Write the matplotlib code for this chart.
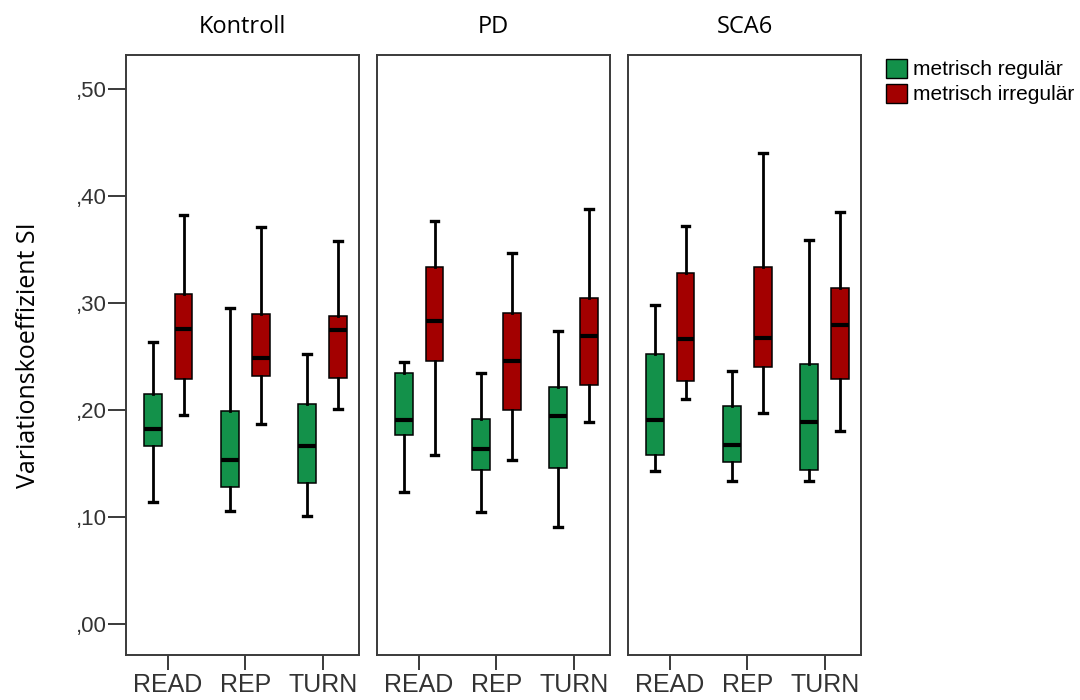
import matplotlib
matplotlib.use("Agg")
import matplotlib.pyplot as plt
from matplotlib.patches import Patch

groups = ["Kontroll", "PD", "SCA6"]
tasks = ["READ", "REP", "TURN"]
series = ["metrisch regulär", "metrisch irregulär"]
colors = ["#13914A", "#A30000"]

# five-number summaries per group, task order READ, REP, TURN
# (lower whisker, Q1, median, Q3, upper whisker)
kontroll_regular = [(0.114, 0.166, 0.182, 0.215, 0.264),
                    (0.106, 0.128, 0.153, 0.199, 0.295),
                    (0.101, 0.132, 0.166, 0.206, 0.252)]
kontroll_irregular = [(0.195, 0.229, 0.276, 0.309, 0.382),
                      (0.187, 0.232, 0.249, 0.290, 0.371),
                      (0.201, 0.230, 0.275, 0.288, 0.358)]
pd_regular = [(0.123, 0.177, 0.191, 0.235, 0.245),
              (0.105, 0.144, 0.164, 0.192, 0.235),
              (0.091, 0.146, 0.194, 0.222, 0.274)]
pd_irregular = [(0.158, 0.246, 0.283, 0.334, 0.377),
                (0.153, 0.200, 0.246, 0.291, 0.347),
                (0.189, 0.223, 0.269, 0.305, 0.388)]
sca6_regular = [(0.143, 0.158, 0.191, 0.252, 0.298),
                (0.134, 0.151, 0.167, 0.204, 0.237),
                (0.134, 0.144, 0.189, 0.243, 0.359)]
sca6_irregular = [(0.210, 0.227, 0.266, 0.328, 0.372),
                  (0.197, 0.240, 0.267, 0.334, 0.440),
                  (0.180, 0.229, 0.280, 0.314, 0.385)]

data = {
    "Kontroll": (kontroll_regular, kontroll_irregular),
    "PD": (pd_regular, pd_irregular),
    "SCA6": (sca6_regular, sca6_irregular),
}

yticks = [0.0, 0.1, 0.2, 0.3, 0.4, 0.5]
ytick_labels = [",00", ",10", ",20", ",30", ",40", ",50"]

fig = plt.figure(figsize=(10.8, 7.0), dpi=100)
lefts = [126 / 1080, 377 / 1080, 628 / 1080]
width = 233 / 1080
bottom = 1 - 655 / 700
height = 600 / 700

offsets = [-0.2, 0.2]
axes = []
for gi, g in enumerate(groups):
    ax = fig.add_axes([lefts[gi], bottom, width, height])
    axes.append(ax)
    for si, summ in enumerate(data[g]):
        stats = []
        for lo, q1, med, q3, hi in summ:
            stats.append(dict(whislo=lo, q1=q1, med=med, q3=q3, whishi=hi, fliers=[]))
        pos = [i + offsets[si] for i in range(len(tasks))]
        ax.bxp(stats, positions=pos, widths=0.23, patch_artist=True, showfliers=False,
               boxprops=dict(facecolor=colors[si], edgecolor="black", linewidth=1.1),
               medianprops=dict(color="black", linewidth=3.0, solid_capstyle="butt"),
               whiskerprops=dict(color="black", linewidth=2.0),
               capprops=dict(color="black", linewidth=2.4),
               capwidths=0.1, manage_ticks=False)
    ax.set_xlim(-0.545, 2.47)
    ax.set_ylim(-0.029, 0.532)
    ax.set_xticks(range(len(tasks)))
    ax.set_xticklabels(tasks, fontsize=18, family="Liberation Sans", color="#333333")
    ax.tick_params(axis="x", length=11, width=1.4, color="#3a3a3a", pad=2)
    for sp in ax.spines.values():
        sp.set_color("#3a3a3a")
        sp.set_linewidth(1.4)
    ax.set_title(g, fontsize=17, family="Open Sans", pad=16)
    if gi == 0:
        ax.set_yticks(yticks)
        ax.set_yticklabels(ytick_labels, fontsize=16, family="Liberation Sans", color="#333333")
        ax.tick_params(axis="y", length=13, width=1.4, color="#3a3a3a", pad=1)
        ax.set_ylabel("Variationskoeffizient SI", fontsize=18, family="Open Sans", labelpad=25)
    else:
        ax.set_yticks([])

handles = [Patch(facecolor=colors[i], edgecolor="black", linewidth=1.0, label=series[i])
           for i in range(2)]
fig.legend(handles=handles, loc="upper left", bbox_to_anchor=(886 / 1080, 1 - 59 / 700),
           frameon=False, prop=dict(family="Liberation Sans", size=15),
           handlelength=1.0, handleheight=1.0, handletextpad=0.3, labelspacing=0.22,
           borderaxespad=0, borderpad=0)

fig.savefig("out.png", dpi=100)
